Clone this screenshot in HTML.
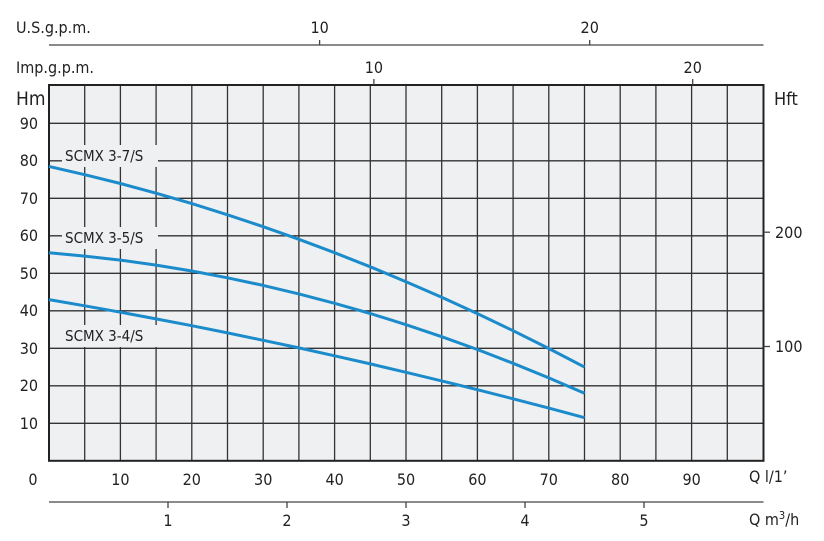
<!DOCTYPE html>
<html><head><meta charset="utf-8"><style>
html,body{margin:0;padding:0;background:#fff}
svg{display:block}
text{font-family:"DejaVu Sans Condensed","Liberation Sans",sans-serif;fill:#222}
</style></head><body>
<svg width="824" height="541" viewBox="0 0 824 541" xmlns="http://www.w3.org/2000/svg">
<rect x="49" y="85" width="714.5" height="375.8" fill="#eef0f2"/>
<g stroke="#333" stroke-width="1.3">
<line x1="84.7" y1="85" x2="84.7" y2="460.8"/><line x1="120.4" y1="85" x2="120.4" y2="460.8"/>
<line x1="156.1" y1="85" x2="156.1" y2="460.8"/><line x1="191.8" y1="85" x2="191.8" y2="460.8"/>
<line x1="227.5" y1="85" x2="227.5" y2="460.8"/><line x1="263.2" y1="85" x2="263.2" y2="460.8"/>
<line x1="298.9" y1="85" x2="298.9" y2="460.8"/><line x1="334.6" y1="85" x2="334.6" y2="460.8"/>
<line x1="370.3" y1="85" x2="370.3" y2="460.8"/><line x1="406" y1="85" x2="406" y2="460.8"/>
<line x1="441.7" y1="85" x2="441.7" y2="460.8"/><line x1="477.4" y1="85" x2="477.4" y2="460.8"/>
<line x1="513.1" y1="85" x2="513.1" y2="460.8"/><line x1="548.8" y1="85" x2="548.8" y2="460.8"/>
<line x1="584.5" y1="85" x2="584.5" y2="460.8"/><line x1="620.2" y1="85" x2="620.2" y2="460.8"/>
<line x1="655.9" y1="85" x2="655.9" y2="460.8"/><line x1="691.6" y1="85" x2="691.6" y2="460.8"/>
<line x1="727.3" y1="85" x2="727.3" y2="460.8"/>
<line x1="49" y1="123.3" x2="763.5" y2="123.3"/><line x1="49" y1="160.8" x2="763.5" y2="160.8"/>
<line x1="49" y1="198.3" x2="763.5" y2="198.3"/><line x1="49" y1="235.8" x2="763.5" y2="235.8"/>
<line x1="49" y1="273.3" x2="763.5" y2="273.3"/><line x1="49" y1="310.8" x2="763.5" y2="310.8"/>
<line x1="49" y1="348.3" x2="763.5" y2="348.3"/><line x1="49" y1="385.8" x2="763.5" y2="385.8"/>
<line x1="49" y1="423.3" x2="763.5" y2="423.3"/>
</g>
<rect x="49" y="85" width="714.5" height="375.8" fill="none" stroke="#222" stroke-width="2"/>
<g stroke="#444" stroke-width="1.3">
<line x1="49" y1="45" x2="763.5" y2="45"/>
<line x1="319.6" y1="40" x2="319.6" y2="45"/><line x1="589.7" y1="40" x2="589.7" y2="45"/>
<line x1="373.9" y1="79" x2="373.9" y2="85"/><line x1="692.7" y1="79" x2="692.7" y2="85"/>
<line x1="49" y1="502" x2="763.5" y2="502"/>
<line x1="168" y1="502" x2="168" y2="508"/><line x1="287" y1="502" x2="287" y2="508"/>
<line x1="406" y1="502" x2="406" y2="508"/><line x1="525" y1="502" x2="525" y2="508"/>
<line x1="644" y1="502" x2="644" y2="508"/>
<line x1="763.5" y1="346.5" x2="770" y2="346.5"/><line x1="763.5" y1="232.2" x2="770" y2="232.2"/>
</g>
<g font-size="16">
<text x="16" y="33">U.S.g.p.m.</text>
<text x="319.6" y="33" text-anchor="middle">10</text>
<text x="589.7" y="33" text-anchor="middle">20</text>
<text x="16" y="73">Imp.g.p.m.</text>
<text x="373.9" y="73" text-anchor="middle">10</text>
<text x="692.7" y="73" text-anchor="middle">20</text>
<text x="16" y="105" font-size="19">Hm</text>
<text x="774" y="105" font-size="18">Hft</text>
<g text-anchor="end">
<text x="38" y="129">90</text><text x="38" y="166">80</text><text x="38" y="204">70</text>
<text x="38" y="241">60</text><text x="38" y="279">50</text><text x="38" y="316">40</text>
<text x="38" y="354">30</text><text x="38" y="391">20</text><text x="38" y="429">10</text>
</g>
<text x="775" y="238">200</text><text x="775" y="352">100</text>
<g text-anchor="middle">
<text x="33" y="485">0</text>
<text x="120.4" y="485">10</text><text x="191.8" y="485">20</text><text x="263.2" y="485">30</text>
<text x="334.6" y="485">40</text><text x="406" y="485">50</text><text x="477.4" y="485">60</text>
<text x="548.8" y="485">70</text><text x="620.2" y="485">80</text><text x="691.6" y="485">90</text>
<text x="168" y="526">1</text><text x="287" y="526">2</text><text x="406" y="526">3</text>
<text x="525" y="526">4</text><text x="644" y="526">5</text>
</g>
<text x="749" y="482">Q l/1’</text>
<text x="749" y="525">Q m<tspan font-size="11" dy="-6">3</tspan><tspan dy="6">/h</tspan></text>
</g>
<g font-size="15">
<rect x="62" y="145" width="96" height="22" fill="#eef0f2"/>
<text x="65" y="161">SCMX 3-7/S</text>
<rect x="62" y="227" width="96" height="22" fill="#eef0f2"/>
<text x="65" y="243">SCMX 3-5/S</text>
<rect x="62" y="325" width="96" height="22" fill="#eef0f2"/>
<text x="65" y="341">SCMX 3-4/S</text>
</g>
<g fill="none" stroke="#1b8bcb" stroke-width="3" stroke-linejoin="round">
<polyline points="49,166.4 84.7,174.7 120.4,183.5 156.1,193.2 191.8,203.6 227.5,214.8 263.2,226.7 298.9,239.3 334.6,252.7 370.3,266.8 406,281.7 441.7,297.3 477.4,313.6 513.1,330.7 548.8,348.5 584.5,367.1"/>
<polyline points="49,252.7 84.7,256.1 120.4,260.1 156.1,265.1 191.8,271 227.5,277.8 263.2,285.4 298.9,293.9 334.6,303.3 370.3,313.5 406,324.7 441.7,336.7 477.4,349.5 513.1,363.3 548.8,377.9 584.5,393.3"/>
<polyline points="49,299.6 84.7,305.8 120.4,312.2 156.1,318.9 191.8,325.7 227.5,332.9 263.2,340.3 298.9,347.9 334.6,355.8 370.3,363.9 406,372.3 441.7,380.9 477.4,389.7 513.1,398.8 548.8,408.1 584.5,417.7"/>
</g>
</svg>
</body></html>
